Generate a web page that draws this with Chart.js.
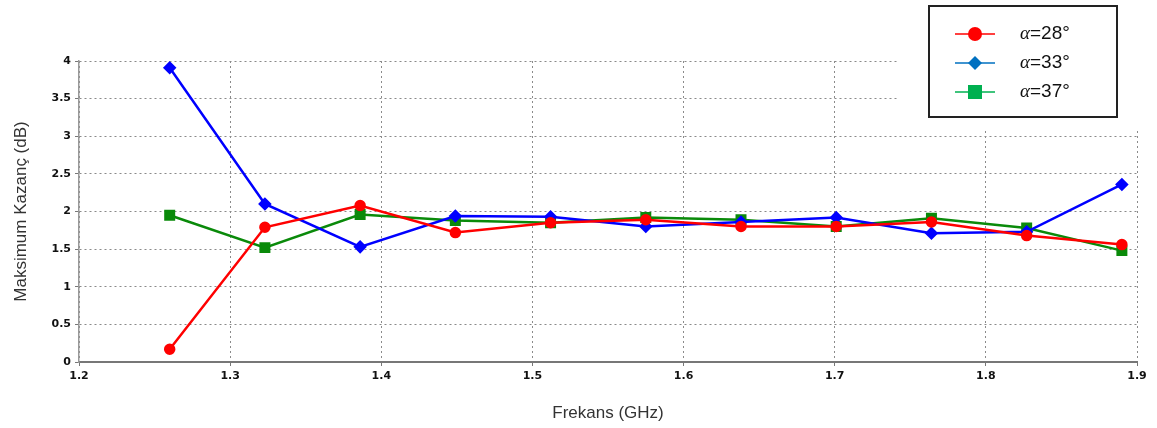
<!DOCTYPE html>
<html>
<head>
<meta charset="utf-8">
<script src="https://cdn.jsdelivr.net/npm/chart.js@4.4.1/dist/chart.umd.min.js"></script>
<style>
  html, body { margin: 0; padding: 0; background: #fff; }
  #wrap { width: 1157px; height: 428px; position: relative; }
</style>
</head>
<body>
<div id="wrap"><canvas id="gainChart"></canvas></div>
<script>
const freqs = [1.26, 1.323, 1.386, 1.449, 1.512, 1.575, 1.638, 1.701, 1.764, 1.827, 1.89];
const gain28 = [0.17, 1.79, 2.08, 1.72, 1.85, 1.89, 1.80, 1.80, 1.86, 1.68, 1.56];
const gain33 = [3.91, 2.10, 1.53, 1.94, 1.93, 1.80, 1.86, 1.92, 1.71, 1.73, 2.36];
const gain37 = [1.95, 1.52, 1.96, 1.88, 1.85, 1.92, 1.89, 1.80, 1.91, 1.78, 1.48];
const seriesLabels = ['α=28°', 'α=33°', 'α=37°'];
const xTicks = [1.2, 1.3, 1.4, 1.5, 1.6, 1.7, 1.8, 1.9];

const pts = (ys) => ys.map((y, i) => ({ x: freqs[i], y }));

// white patch + boxed legend in the top-right corner
const legendBox = {
  id: 'legendBox',
  afterDraw(chart) {
    const ctx = chart.ctx;
    ctx.save();
    ctx.fillStyle = '#fff';
    ctx.fillRect(899, 0, 258, 130);
    ctx.strokeStyle = '#222';
    ctx.lineWidth = 2;
    ctx.strokeRect(929, 6, 188, 111);
    const rows = [
      { y: 34, color: '#ff0000', style: 'circle' },
      { y: 63, color: '#0070c0', style: 'diamond' },
      { y: 92, color: '#00b050', style: 'square' }
    ];
    rows.forEach((r, i) => {
      ctx.strokeStyle = r.color;
      ctx.fillStyle = r.color;
      ctx.lineWidth = 1.5;
      ctx.beginPath();
      ctx.moveTo(955, r.y);
      ctx.lineTo(995, r.y);
      ctx.stroke();
      ctx.beginPath();
      if (r.style === 'circle') {
        ctx.arc(975, r.y, 7, 0, Math.PI * 2);
      } else if (r.style === 'diamond') {
        ctx.moveTo(975, r.y - 7); ctx.lineTo(982, r.y);
        ctx.lineTo(975, r.y + 7); ctx.lineTo(968, r.y);
        ctx.closePath();
      } else {
        ctx.rect(968, r.y - 7, 14, 14);
      }
      ctx.fill();
      const label = seriesLabels[i];
      ctx.fillStyle = '#111';
      ctx.textBaseline = 'middle';
      ctx.font = 'italic 19px "Liberation Serif"';
      ctx.fillText(label.charAt(0), 1020, r.y);
      const w = ctx.measureText(label.charAt(0)).width;
      ctx.font = '19px "Liberation Sans"';
      ctx.fillText(label.slice(1), 1020 + w, r.y);
    });
    ctx.restore();
  }
};

const ds = (label, data, color, style, radius) => ({
  label, data: pts(data),
  borderColor: color, backgroundColor: color,
  borderWidth: 2.5,
  pointStyle: style, pointRadius: radius, pointHoverRadius: radius,
  tension: 0
});

new Chart(document.getElementById('gainChart'), {
  type: 'line',
  data: {
    datasets: [
      ds(seriesLabels[0], gain28, '#ff0000', 'circle', 4.5),
      ds(seriesLabels[1], gain33, '#0000ff', 'rectRot', 5),
      ds(seriesLabels[2], gain37, '#0a8a0a', 'rect', 6)
    ]
  },
  options: {
    responsive: true,
    maintainAspectRatio: false,
    animation: false,
    layout: { padding: { top: 61, right: 20, left: 0, bottom: 0 } },
    plugins: { legend: { display: false }, tooltip: { enabled: false } },
    scales: {
      x: {
        type: 'linear',
        min: 1.2, max: 1.9,
        afterBuildTicks: (s) => { s.ticks = xTicks.map(v => ({ value: v })); },
        afterFit: (s) => { s.height = 66; },
        ticks: {
          color: '#111',
          font: { family: '"DejaVu Sans"', weight: 'bold', size: 11 },
          padding: 4,
          callback: (v) => v.toFixed(1)
        },
        grid: { color: '#8a8a8a', tickColor: '#777', tickLength: 4, drawTicks: true },
        border: { color: '#777', width: 2, dash: [2, 3] },
        title: {
          display: true, text: 'Frekans (GHz)', color: '#333',
          font: { family: '"Liberation Sans"', size: 17 },
          padding: { top: 6 }
        }
      },
      y: {
        min: 0, max: 4,
        afterFit: (s) => { s.width = 79; },
        ticks: {
          stepSize: 0.5,
          color: '#111',
          font: { family: '"DejaVu Sans"', weight: 'bold', size: 11 },
          padding: 4,
          callback: (v) => String(v)
        },
        grid: { color: '#8a8a8a', tickColor: '#777', tickLength: 4 },
        border: { color: '#999', width: 1.5, dash: [2, 3] },
        title: {
          display: true, text: 'Maksimum Kazanç (dB)', color: '#333',
          font: { family: '"Liberation Sans"', size: 17 },
          padding: { top: 11, bottom: 4 }
        }
      }
    }
  },
  plugins: [legendBox]
});
</script>
</body>
</html>
